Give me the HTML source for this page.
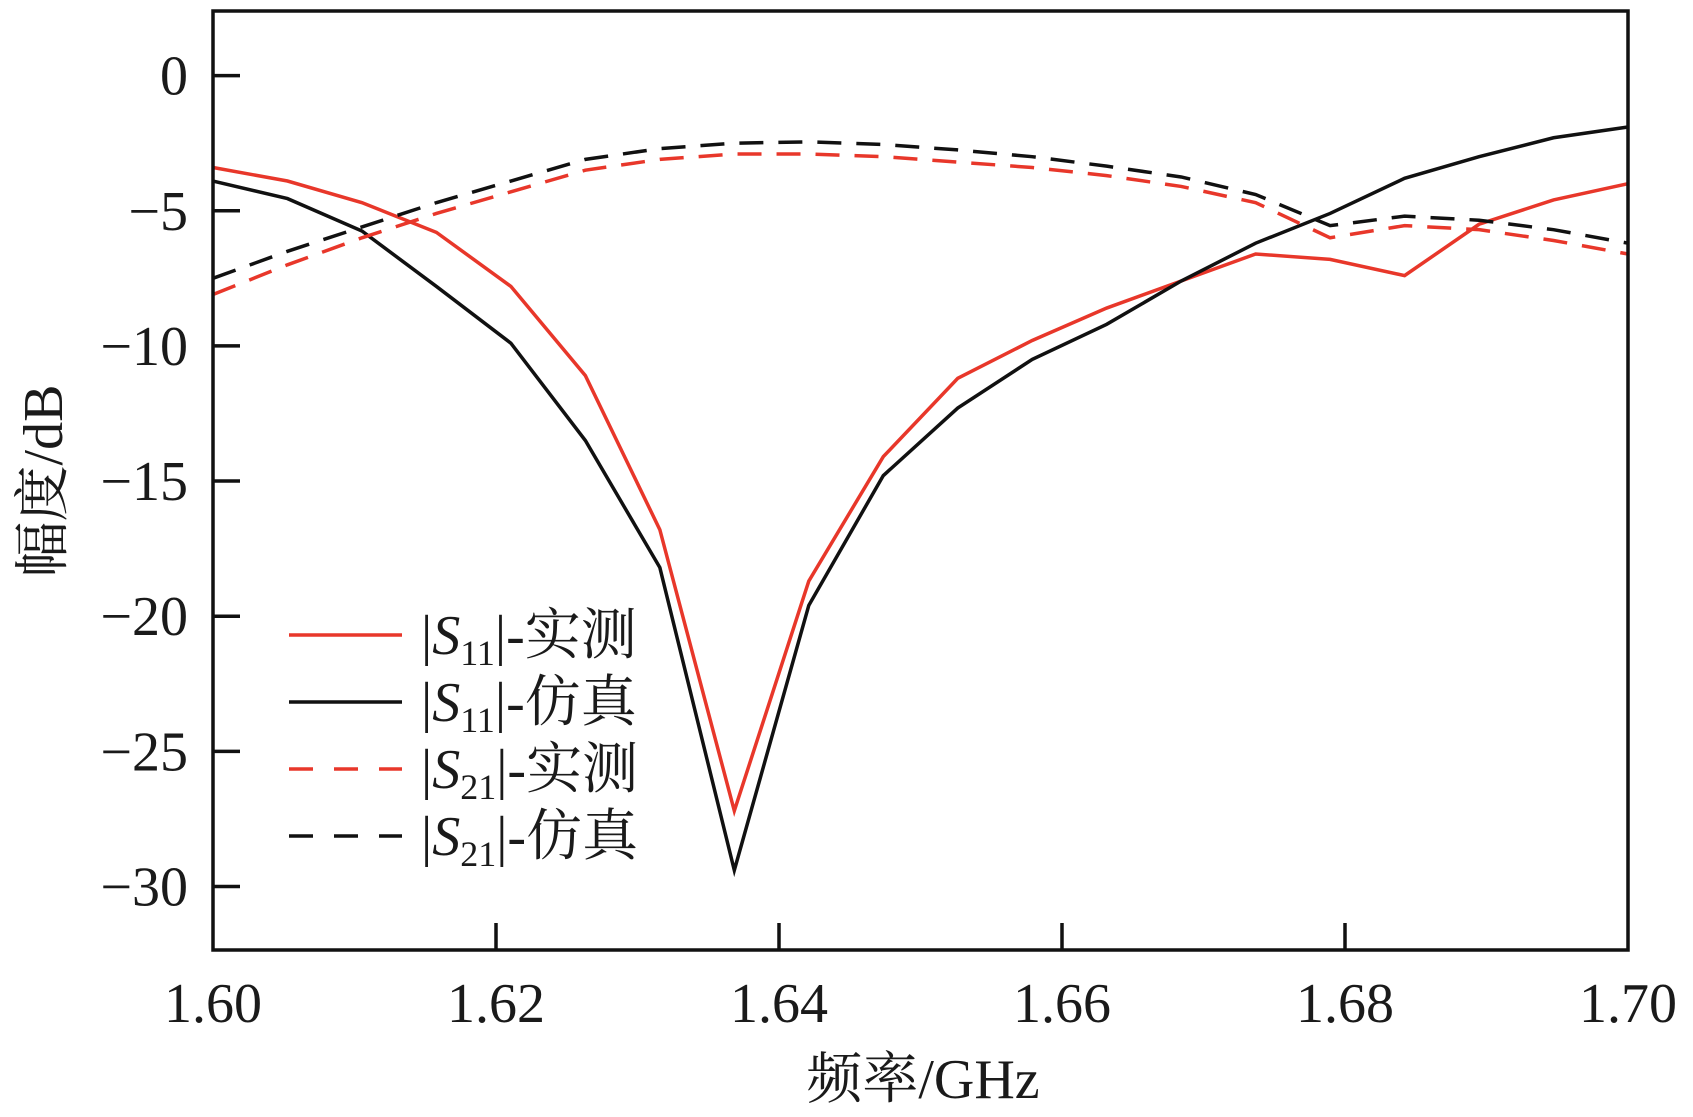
<!DOCTYPE html>
<html><head><meta charset="utf-8"><style>
body{margin:0;background:#fff}
svg text{font-family:"Liberation Serif","Noto Serif CJK SC",serif;fill:#1a1a1a}
</style></head><body>
<svg id="chart" width="1693" height="1112" viewBox="0 0 1693 1112">
<g id="plot"></g>
</svg>
<script>
const freqStart = 1.60, freqEnd = 1.70, nPts = 20;
const s11Meas = [-3.4,-3.9,-4.7,-5.8,-7.8,-11.1,-16.8,-27.2,-18.7,-14.1,-11.2,-9.8,-8.6,-7.6,-6.6,-6.8,-7.4,-5.5,-4.6,-4.0];
const s11Sim = [-3.9,-4.55,-5.75,-7.8,-9.9,-13.5,-18.2,-29.4,-19.6,-14.8,-12.3,-10.5,-9.2,-7.6,-6.2,-5.1,-3.8,-3.0,-2.3,-1.9];
const s21Meas = [-8.1,-7.0,-6.0,-5.1,-4.3,-3.5,-3.1,-2.9,-2.9,-3.0,-3.2,-3.4,-3.7,-4.1,-4.7,-6.0,-5.55,-5.7,-6.1,-6.6];
const s21Sim = [-7.5,-6.5,-5.6,-4.7,-3.9,-3.1,-2.7,-2.5,-2.45,-2.55,-2.75,-3.0,-3.35,-3.75,-4.4,-5.55,-5.2,-5.35,-5.7,-6.2];
const xTicks = [1.60,1.62,1.64,1.66,1.68,1.70];
const xTickLabels = ["1.60","1.62","1.64","1.66","1.68","1.70"];
const yTicks = [0,-5,-10,-15,-20,-25,-30];
const yTickLabels = ["0","\u22125","\u221210","\u221215","\u221220","\u221225","\u221230"];
const legendLabels = [["11","实测"],["11","仿真"],["21","实测"],["21","仿真"]];

const L=213,R=1628,T=11,B=950;
const X=v=>L+(v-1.60)/(0.10)*(R-L);
const Y=v=>75.6+(-v)*27.03;
const NS="http://www.w3.org/2000/svg";
const g=document.getElementById('plot');
function mk(t,a){const e=document.createElementNS(NS,t);for(const k in a)e.setAttribute(k,a[k]);g.appendChild(e);return e;}
const xs=[];for(let i=0;i<nPts;i++)xs.push(freqStart+i*(freqEnd-freqStart)/(nPts-1));

const series=[[s11Meas,'#e8372a',null,'s11-measured-line'],[s11Sim,'#111',null,'s11-simulated-line'],[s21Meas,'#e8372a','24 15','s21-measured-line'],[s21Sim,'#111','24 15','s21-simulated-line']];
series.forEach(s=>{
  const p=mk('polyline',{points:s[0].map((v,i)=>X(xs[i])+','+Y(v)).join(' '),fill:'none',stroke:s[1],'stroke-width':3.5,'stroke-linejoin':'miter'});
  if(s[2])p.setAttribute('stroke-dasharray',s[2]);
  
  
});
const fr=mk('rect',{x:L,y:T,width:R-L,height:B-T,fill:'none',stroke:'#111','stroke-width':3.5});


yTicks.forEach((v,i)=>{
  const tk=mk('line',{x1:L,x2:L+27,y1:Y(v),y2:Y(v),stroke:'#111','stroke-width':3.5});
  
  
  const t=mk('text',{x:188,y:Y(v)+19,'text-anchor':'end','font-size':56});
  t.textContent=yTickLabels[i];
  
  
});
xTicks.forEach((v,i)=>{
  if(i>0&&i<xTicks.length-1){
    const tk=mk('line',{x1:X(v),x2:X(v),y1:B,y2:B-27,stroke:'#111','stroke-width':3.5});
    
    
  }
  const t=mk('text',{x:X(v),y:1022,'text-anchor':'middle','font-size':56});
  t.textContent=xTickLabels[i];
  
  
});
const xt=mk('text',{x:923,y:1098,'text-anchor':'middle','font-size':56});
xt.textContent='频率/GHz';


const yt=mk('text',{x:0,y:0,'text-anchor':'middle','font-size':56,transform:'translate(62,481) rotate(-90)'});
yt.textContent='幅度/dB';


legendLabels.forEach((lb,i)=>{
  const y=635+i*67;
  const ln=mk('line',{x1:289,x2:402,y1:y,y2:y,stroke:series[i][1],'stroke-width':3.5});
  if(series[i][2])ln.setAttribute('stroke-dasharray','24 21');
  
  
  const t=mk('text',{x:421,y:y+19,'font-size':56});
  t.innerHTML='|<tspan font-style="italic">S</tspan><tspan font-size="36" dy="11">'+lb[0]+'</tspan><tspan dy="-11">|-'+lb[1]+'</tspan>';
  
  
});
</script>
</body></html>
